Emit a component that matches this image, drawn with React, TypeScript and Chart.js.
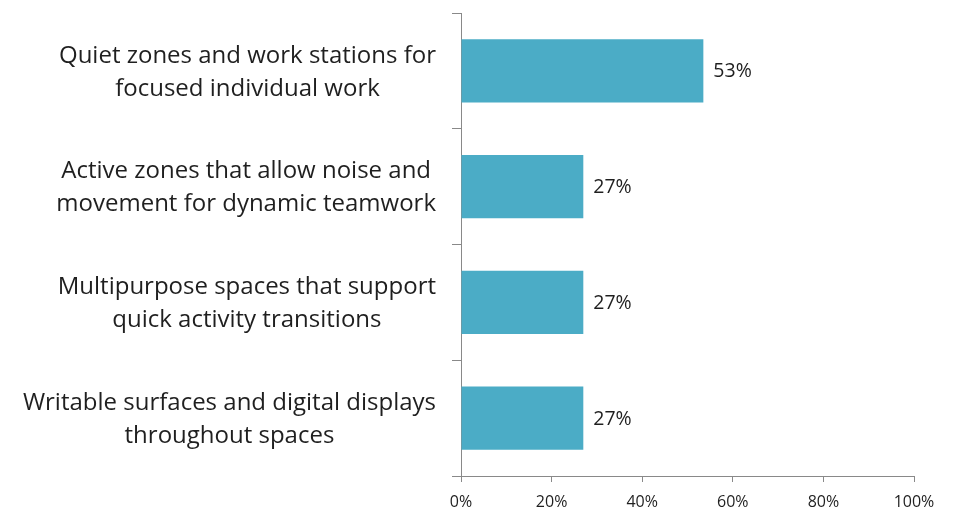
import React, { useEffect, useRef } from "react";
import { Chart, registerables } from "chart.js";

Chart.register(...registerables);

const categories: string[][] = [
  ["Quiet zones and work stations for", "focused individual work"],
  ["Active zones that allow noise and", "movement for dynamic teamwork"],
  ["Multipurpose spaces that support", "quick activity transitions"],
  ["Writable surfaces and digital displays", "throughout spaces"],
];
const values: number[] = [53.5, 27, 27, 27];
const valueLabels: string[] = ["53%", "27%", "27%", "27%"];
const xTicks: number[] = [0, 20, 40, 60, 80, 100];

const FONT = "'Open Sans', sans-serif";
const TEXT = "#1f1f1f";
const AXIS = "#898989";
const BAR = "#4BACC6";

const categoryLabelPlugin = {
  id: "categoryLabels",
  afterDraw(chart: any) {
    const ctx = chart.ctx;
    const y = chart.scales.y;
    ctx.save();
    ctx.font = `24px ${FONT}`;
    ctx.fillStyle = TEXT;
    ctx.textAlign = "center";
    ctx.textBaseline = "middle";
    const rightEdge = chart.chartArea.left - 25;
    const lh = 33;
    categories.forEach((lines, i) => {
      const cy = y.getPixelForValue(i) + 1.5;
      const w = Math.max(...lines.map((l) => ctx.measureText(l).width));
      const cx = rightEdge - w / 2;
      const start = cy - ((lines.length - 1) * lh) / 2;
      lines.forEach((l, j) => ctx.fillText(l, cx, start + j * lh));
    });
    ctx.restore();
  },
};

const valueLabelPlugin = {
  id: "valueLabels",
  afterDatasetsDraw(chart: any) {
    const ctx = chart.ctx;
    const meta = chart.getDatasetMeta(0);
    ctx.save();
    ctx.font = `19.5px ${FONT}`;
    ctx.fillStyle = TEXT;
    ctx.textAlign = "left";
    ctx.textBaseline = "middle";
    meta.data.forEach((bar: any, i: number) => {
      ctx.fillText(valueLabels[i], bar.x + 10, bar.y + 1);
    });
    ctx.restore();
  },
};

export default function App() {
  const ref = useRef<HTMLCanvasElement>(null);
  useEffect(() => {
    const chart = new Chart(ref.current!, {
      type: "bar",
      data: {
        labels: categories.map((c) => c.join(" ")),
        datasets: [
          {
            data: values,
            backgroundColor: BAR,
            borderWidth: 0,
            barPercentage: 0.545,
            categoryPercentage: 1,
          },
        ],
      },
      options: {
        indexAxis: "y",
        animation: false,
        responsive: false,
        maintainAspectRatio: false,
        layout: { padding: { top: 13, right: 45, left: 0, bottom: 0 } },
        plugins: {
          legend: { display: false },
          tooltip: { enabled: false },
        },
        scales: {
          x: {
            min: 0,
            max: 100,
            afterBuildTicks: (s: any) => {
              s.ticks = xTicks.map((v) => ({ value: v }));
            },
            afterFit: (s: any) => {
              s.height = 37;
            },
            grid: {
              drawOnChartArea: false,
              drawTicks: true,
              tickLength: 6,
              color: AXIS,
              tickColor: AXIS,
              lineWidth: 1,
            },
            border: { color: AXIS, width: 1 },
            ticks: {
              padding: 11,
              color: TEXT,
              font: { family: FONT, size: 16 },
              callback: (v: any) => `${v}%`,
              maxRotation: 0,
            },
          },
          y: {
            afterFit: (s: any) => {
              s.width = 461;
            },
            grid: {
              drawOnChartArea: false,
              drawTicks: true,
              tickLength: 9,
              offset: true,
              color: AXIS,
              tickColor: AXIS,
            },
            border: { color: AXIS, width: 1 },
            ticks: { display: false },
          },
        },
      },
      plugins: [categoryLabelPlugin, valueLabelPlugin],
    } as any);
    return () => chart.destroy();
  }, []);
  return (
    <div style={{ position: "fixed", left: 0, top: 0, width: 959, height: 513, background: "#fff" }}>
      <canvas ref={ref} width={959} height={513} style={{ width: 959, height: 513 }} />
    </div>
  );
}
